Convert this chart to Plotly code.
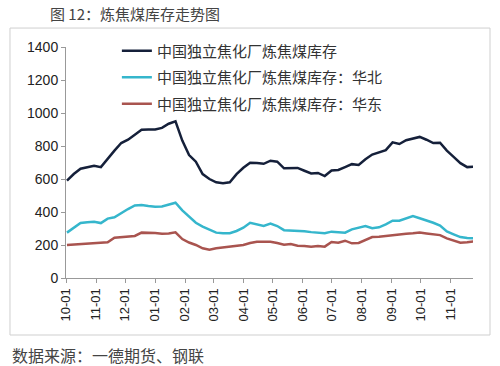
import pandas as pd
import plotly.graph_objects as go

dates = pd.date_range("2015-10-02", periods=61, freq="7D")

total = [590, 630, 662, 672, 680, 672, 725, 772, 818, 838, 868, 898, 900, 900, 910, 935, 950,
         833, 745, 705, 630, 600, 580, 575, 580, 629, 668, 699, 697, 692, 711, 705, 665, 665,
         667, 650, 634, 637, 618, 652, 655, 672, 690, 685, 720, 748, 760, 775, 822, 812, 835,
         845, 855, 838, 818, 820, 772, 734, 696, 672, 675]
north = [275, 305, 333, 338, 341, 333, 360, 368, 394, 418, 440, 442, 436, 432, 433, 445, 456,
         410, 372, 335, 312, 295, 275, 271, 271, 285, 305, 335, 325, 316, 330, 315, 290, 289,
         287, 283, 278, 273, 271, 281, 279, 275, 295, 305, 315, 302, 307, 325, 347, 347, 360,
         375, 362, 350, 335, 318, 282, 265, 248, 242, 240]
east = [200, 203, 205, 207, 210, 213, 216, 244, 248, 250, 255, 275, 275, 272, 268, 270, 277,
        236, 215, 200, 180, 172, 180, 186, 190, 194, 200, 212, 220, 220, 220, 212, 202, 206,
        196, 194, 190, 194, 190, 218, 214, 226, 210, 212, 230, 248, 250, 255, 258, 266, 268,
        271, 275, 270, 265, 260, 240, 228, 214, 216, 222]

names = ["中国独立焦化厂炼焦煤库存", "中国独立焦化厂炼焦煤库存：华北", "中国独立焦化厂炼焦煤库存：华东"]
colors = ["#15203a", "#35b6cc", "#a9544f"]
series = [total, north, east]

FONT = "Liberation Sans, Noto Sans CJK SC"
CJK = "Noto Sans CJK SC"

fig = go.Figure()
for i, (nm, col, vals) in enumerate(zip(names, colors, series)):
    fig.add_trace(go.Scatter(x=dates, y=vals, mode="lines", name=nm, legendgroup=str(i),
                             line=dict(color=col, width=2.5)))

fig.update_layout(
    width=500, height=366,
    margin=dict(l=66, r=27, t=47, b=88),
    paper_bgcolor="white", plot_bgcolor="white",
    font=dict(family=FONT, color="#222", size=14),
    showlegend=True,
    legend=dict(x=0.125, y=1.054, xanchor="left", yanchor="top", bgcolor="rgba(0,0,0,0)",
                font=dict(family=CJK, size=15, color="#333"), tracegroupgap=4),
    xaxis=dict(type="date", range=["2015-10-01", "2016-11-24"], tickformat="%m-%d",
               dtick="M1", tick0="2015-10-01", tickangle=-90, ticks="outside", ticklen=4,
               tickcolor="#999", showline=True, linecolor="#999", showgrid=False,
               tickfont=dict(size=13, color="#222")),
    yaxis=dict(range=[0, 1400], dtick=200, ticks="outside", ticklen=4, tickcolor="#999",
               showline=True, linecolor="#999", showgrid=False, zeroline=False,
               tickfont=dict(size=14, color="#222")),
    shapes=[dict(type="rect", xref="paper", yref="paper", x0=-0.1376, x1=1.0418, y0=-0.2468,
                 y1=1.082, line=dict(color="#cfcfcf", width=1), layer="above")],
    annotations=[
        dict(text="图 12：炼焦煤库存走势图", xref="paper", yref="paper", x=-0.044, y=1.147,
             xanchor="left", yanchor="middle", showarrow=False,
             font=dict(family=CJK, size=15, color="#444")),
        dict(text="数据来源：一德期货、钢联", xref="paper", yref="paper", x=-0.1376, y=-0.333,
             xanchor="left", yanchor="middle", showarrow=False,
             font=dict(family=CJK, size=16, color="#444")),
    ],
)

fig.write_html("out.html", config={"displayModeBar": False},
               post_script="document.body.style.margin='0';document.body.style.padding='0';")
